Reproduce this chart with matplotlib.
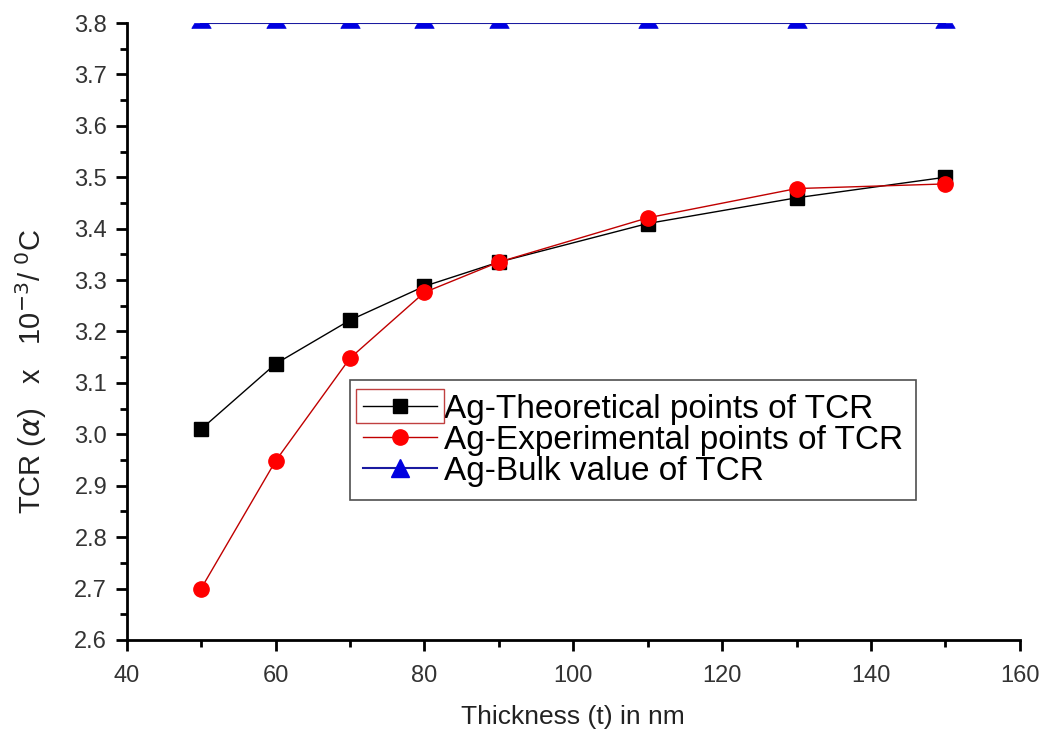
import matplotlib.pyplot as plt
from matplotlib.lines import Line2D
from matplotlib.patches import Rectangle
from matplotlib.ticker import MultipleLocator

plt.rcParams['font.family'] = ['Liberation Sans', 'DejaVu Sans']

thickness = [50, 60, 70, 80, 90, 110, 130, 150]
tcr_theory = [3.01, 3.137, 3.222, 3.288, 3.335, 3.41, 3.46, 3.50]
tcr_expt = [2.70, 2.948, 3.148, 3.276, 3.335, 3.421, 3.478, 3.487]
tcr_bulk = [3.8, 3.8, 3.8, 3.8, 3.8, 3.8, 3.8, 3.8]

# lower part of a triangle: the bulk markers sit on the top frame and only
# the part inside the axes shows
cut_triangle = [(-1, -0.5), (1, -0.5), (0.7, 0), (-0.7, 0), (-1, -0.5)]

fig = plt.figure(figsize=(10.47, 7.42), dpi=100)
ax = fig.add_axes([0.121, 0.1375, 0.853, 0.8315])

l1, = ax.plot(thickness, tcr_theory, color='black', lw=1.0, marker='s', ms=10,
              mfc='black', mec='black')
l2, = ax.plot(thickness, tcr_expt, color='#c00000', lw=1.0, marker='o', ms=11,
              mfc='#ff0000', mec='#ff0000')
ax.plot(thickness, tcr_bulk, color='#1a1aa0', lw=1.5, marker=cut_triangle,
        ms=14, mfc='#0000e0', mec='#0000e0', mew=0.5)
l3 = Line2D([], [], color='#1a1aa0', lw=1.5, marker='^', ms=13,
            mfc='#0000e0', mec='#0000e0')

ax.set_xlim(40, 160)
ax.set_ylim(2.6, 3.8)
ax.xaxis.set_major_locator(MultipleLocator(20))
ax.xaxis.set_minor_locator(MultipleLocator(10))
ax.yaxis.set_major_locator(MultipleLocator(0.1))
ax.yaxis.set_minor_locator(MultipleLocator(0.05))

for side in ('top', 'right'):
    ax.spines[side].set_visible(False)
for side in ('left', 'bottom'):
    ax.spines[side].set_linewidth(2)

ax.tick_params(which='major', direction='out', length=8, width=2,
               colors='black', labelcolor='#333333')
ax.tick_params(which='minor', direction='out', length=5, width=2)
ax.tick_params(axis='y', labelsize=17, pad=6)
ax.tick_params(axis='x', labelsize=17, pad=10)

ax.set_xlabel('Thickness (t) in nm', fontsize=19, color='#222222')
ax.xaxis.set_label_coords(0.5, -0.105)
ax.set_ylabel(r'TCR ($\alpha$)   x   10$^{-3}$/ $^{0}$C', fontsize=21,
              color='#222222')
ax.yaxis.set_label_coords(-0.087, 0.436)

leg = ax.legend([l1, l2, l3],
                ['Ag-Theoretical points of TCR',
                 'Ag-Experimental points of TCR',
                 'Ag-Bulk value of TCR'],
                loc='lower left', bbox_to_anchor=(0.25, 0.227), fontsize=24,
                frameon=True, fancybox=False, edgecolor='#222222',
                handlelength=2.2, handletextpad=0.22, borderpad=0.4,
                labelspacing=0.0, borderaxespad=0)
leg.get_frame().set_linewidth(1.2)

# thin red box round the first legend key
fig.canvas.draw()
key = leg.legend_handles[0].get_window_extent(fig.canvas.get_renderer())
box = Rectangle((key.x0, key.y0 + key.height / 2 - 17), key.width, 34,
                transform=None, fill=False, edgecolor='#c04040', lw=1.0,
                zorder=10)
fig.add_artist(box)

fig.savefig('out.png', dpi=100)
